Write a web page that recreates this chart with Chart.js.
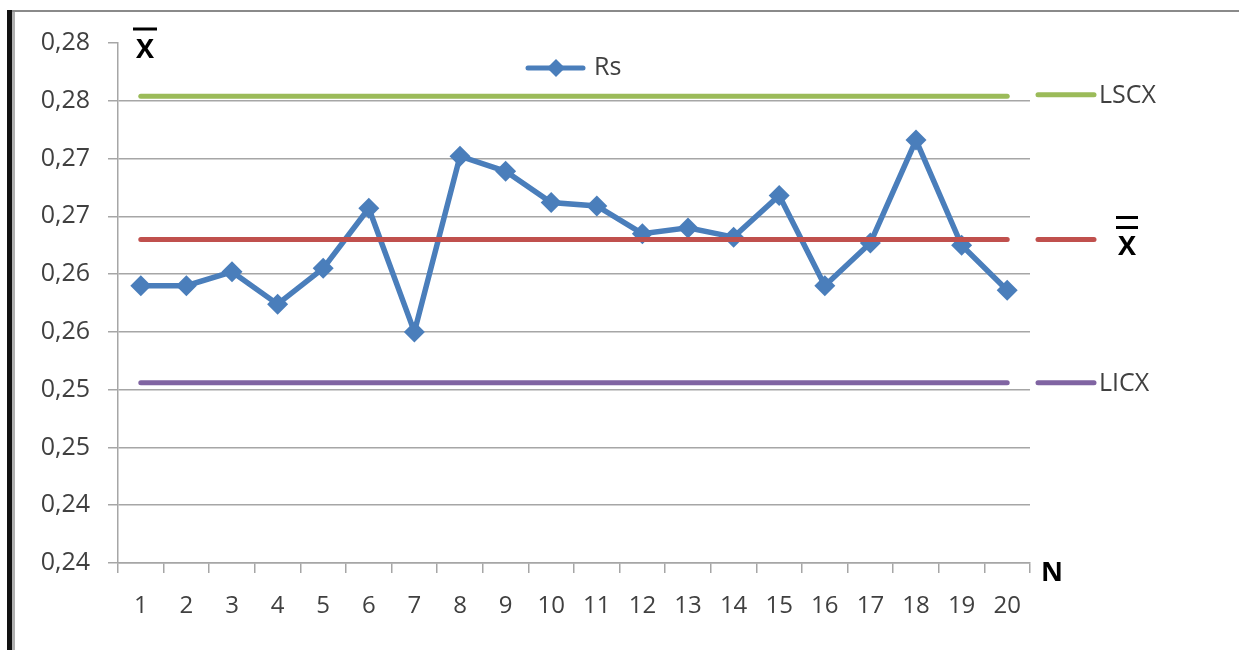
<!DOCTYPE html>
<html>
<head>
<meta charset="utf-8">
<script src="https://cdn.jsdelivr.net/npm/chart.js@4.4.0/dist/chart.umd.min.js"></script>
<style>
  html, body { margin: 0; padding: 0; background: #fff; }
  #wrap { position: relative; width: 1239px; height: 650px; overflow: hidden; }
  #c { position: absolute; left: 0; top: 0; }
  .fr { position: absolute; pointer-events: none; }
</style>
</head>
<body>
<div id="wrap">
  <canvas id="c" width="1239" height="650"></canvas>
  <div class="fr" style="left:7px;top:10px;width:5px;height:640px;background:#111;"></div>
  <div class="fr" style="left:12px;top:10px;width:3px;height:640px;background:#b0b0b0;"></div>
  <div class="fr" style="left:12px;top:10px;width:1227px;height:2px;background:#8a8a8a;"></div>
</div>
<script>
const categories = ['1','2','3','4','5','6','7','8','9','10','11','12','13','14','15','16','17','18','19','20'];
const rsValues = [0.2640, 0.2640, 0.2652, 0.2624, 0.2655, 0.2707, 0.2600, 0.2752, 0.2739, 0.2712,
                  0.2709, 0.2685, 0.2690, 0.2682, 0.2718, 0.2640, 0.2677, 0.2766, 0.2675, 0.2636];
const lscxValue = 0.2804;
const meanValue = 0.2680;
const licxValue = 0.2556;
const yTickValues = [0.240, 0.245, 0.250, 0.255, 0.260, 0.265, 0.270, 0.275, 0.280, 0.285];
const yTickLabels = ['0,24', '0,24', '0,25', '0,25', '0,26', '0,26', '0,27', '0,27', '0,28', '0,28'];

const BLUE = '#4a7ebb', GREEN = '#9bbb59', RED = '#c0504d', PURPLE = '#8064a2';
const TXT = '#404040';
const FONT = '"Open Sans", "Liberation Sans", sans-serif';

const constSeries = v => categories.map(() => v);

const annotPlugin = {
  id: 'annot',
  afterDraw(chart) {
    const ctx = chart.ctx;
    const y = chart.scales.y;
    const area = chart.chartArea;
    ctx.save();
    const rightItems = [
      { v: lscxValue, color: GREEN, text: 'LSCX', dy: -1.5 },
      { v: meanValue, color: RED, text: null, dy: 0 },
      { v: licxValue, color: PURPLE, text: 'LICX', dy: 0 }
    ];
    const x0 = area.right + 8, x1 = area.right + 64;
    rightItems.forEach(it => {
      const py = y.getPixelForValue(it.v) + it.dy;
      ctx.strokeStyle = it.color;
      ctx.lineWidth = 5;
      ctx.lineCap = 'round';
      ctx.beginPath(); ctx.moveTo(x0, py); ctx.lineTo(x1, py); ctx.stroke();
      if (it.text) {
        ctx.fillStyle = TXT;
        ctx.font = '25px ' + FONT;
        ctx.textAlign = 'left';
        ctx.textBaseline = 'middle';
        ctx.fillText(it.text, x1 + 5, py + 1);
      } else {
        const cx = 1127;
        ctx.fillStyle = '#000';
        ctx.font = 'bold 27px ' + FONT;
        ctx.textAlign = 'center';
        ctx.textBaseline = 'alphabetic';
        ctx.fillText('X', cx, py + 16);
        ctx.strokeStyle = '#000';
        ctx.lineWidth = 3;
        ctx.lineCap = 'butt';
        ctx.beginPath();
        ctx.moveTo(cx - 11, py - 22); ctx.lineTo(cx + 11, py - 22);
        ctx.moveTo(cx - 11, py - 12); ctx.lineTo(cx + 11, py - 12);
        ctx.stroke();
      }
    });
    const ly = 68;
    ctx.strokeStyle = BLUE;
    ctx.lineWidth = 5;
    ctx.lineCap = 'round';
    ctx.beginPath(); ctx.moveTo(528, ly); ctx.lineTo(583, ly); ctx.stroke();
    ctx.fillStyle = BLUE;
    ctx.beginPath();
    ctx.moveTo(556, ly - 9); ctx.lineTo(565, ly); ctx.lineTo(556, ly + 9); ctx.lineTo(547, ly);
    ctx.closePath(); ctx.fill();
    ctx.fillStyle = TXT;
    ctx.font = '25px ' + FONT;
    ctx.textAlign = 'left';
    ctx.textBaseline = 'middle';
    ctx.fillText('Rs', 594, ly);
    ctx.fillStyle = '#000';
    ctx.font = 'bold 27px ' + FONT;
    ctx.textAlign = 'center';
    ctx.textBaseline = 'alphabetic';
    ctx.fillText('X', 145, 58);
    ctx.strokeStyle = '#000';
    ctx.lineWidth = 3;
    ctx.lineCap = 'butt';
    ctx.beginPath(); ctx.moveTo(133, 29); ctx.lineTo(157, 29); ctx.stroke();
    ctx.textAlign = 'left';
    ctx.fillText('N', 1041, 581);
    ctx.restore();
  }
};

new Chart(document.getElementById('c'), {
  type: 'line',
  data: {
    labels: categories,
    datasets: [
      { label: 'LSCX', data: constSeries(lscxValue), borderColor: GREEN, borderWidth: 5, pointRadius: 0, borderCapStyle: 'round' },
      { label: 'X', data: constSeries(meanValue), borderColor: RED, borderWidth: 5, pointRadius: 0, borderCapStyle: 'round' },
      { label: 'LICX', data: constSeries(licxValue), borderColor: PURPLE, borderWidth: 5, pointRadius: 0, borderCapStyle: 'round' },
      { label: 'Rs', data: rsValues, borderColor: BLUE, backgroundColor: BLUE, borderWidth: 5.5,
        pointStyle: 'rectRot', pointRadius: 10.5, pointBorderWidth: 0, pointBackgroundColor: BLUE, tension: 0 }
    ]
  },
  options: {
    responsive: false,
    animation: false,
    layout: { padding: { left: 0, top: 43, right: 209, bottom: 0 } },
    plugins: { legend: { display: false }, tooltip: { enabled: false } },
    scales: {
      x: {
        offset: true,
        grid: { offset: true, drawOnChartArea: false, drawTicks: true, tickLength: 10, color: '#a6a6a6', lineWidth: 1.5 },
        border: { display: true, color: '#a6a6a6', width: 1.5 },
        ticks: { color: TXT, font: { family: FONT, size: 24 }, padding: 19, maxRotation: 0, autoSkip: false },
        afterFit(s) { s.height = 87; }
      },
      y: {
        min: 0.24, max: 0.285,
        afterBuildTicks(s) { s.ticks = yTickValues.map(v => ({ value: v })); },
        grid: {
          color: c => (c.tick && c.tick.value >= 0.2849) ? 'rgba(0,0,0,0)' : '#a6a6a6',
          tickColor: '#a6a6a6', lineWidth: 1.5, tickLength: 10
        },
        border: { display: true, color: '#a6a6a6', width: 1.5 },
        ticks: {
          color: TXT, font: { family: FONT, size: 25 }, padding: 18,
          callback: (v, i) => yTickLabels[i]
        },
        afterFit(s) { s.width = 118; }
      }
    }
  },
  plugins: [annotPlugin]
});
</script>
</body>
</html>
